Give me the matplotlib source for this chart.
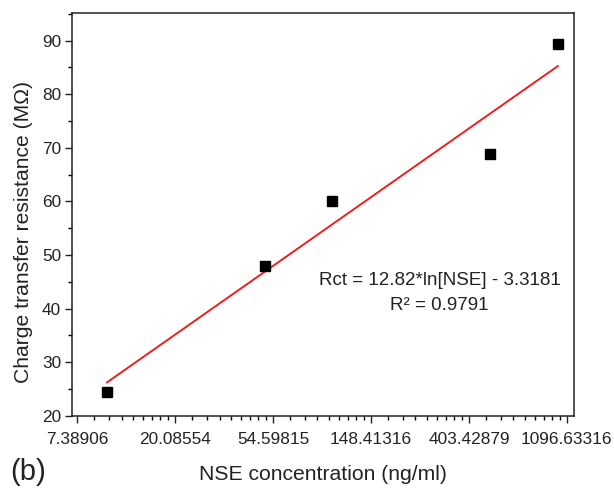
import numpy as np
import matplotlib
matplotlib.use("Agg")
import matplotlib.pyplot as plt
from matplotlib.ticker import FixedLocator, FixedFormatter

# Data
nse_conc = [10, 50, 100, 500, 1000]          # ng/ml
rct = [24.5, 47.9, 60.1, 68.8, 89.3]          # MOhm
fit_slope = 12.82
fit_intercept = -3.3181
r_squared = 0.9791
major_tick_exps = [2, 3, 4, 5, 6, 7]
major_tick_labels = ["7.38906", "20.08554", "54.59815", "148.41316", "403.42879", "1096.63316"]
y_ticks = [20, 30, 40, 50, 60, 70, 80, 90]

plt.rcParams['font.family'] = ['Liberation Sans', 'DejaVu Sans']

fig = plt.figure(figsize=(6.14, 4.91), dpi=100)
ax = fig.add_axes([0.1173, 0.1534, 0.8176, 0.8207])

ax.set_xscale('log', base=np.e)
ax.set_xlim(7, 1180)
ax.set_ylim(20, 95.2)

# fit line
xf = np.exp(np.linspace(np.log(min(nse_conc)), np.log(max(nse_conc)), 50))
ax.plot(xf, fit_slope * np.log(xf) + fit_intercept, color='#e8211e', lw=1.4, zorder=2)

ax.plot(nse_conc, rct, 's', color='black', markersize=7.5, zorder=3)

# ticks
majors = [np.exp(e) for e in major_tick_exps]
ax.xaxis.set_major_locator(FixedLocator(majors))
ax.xaxis.set_major_formatter(FixedFormatter(major_tick_labels))
minors = []
for a, b in zip(majors[:-1], majors[1:]):
    for k in range(1, 9):
        minors.append(a + k * (b - a) / 9)
ax.xaxis.set_minor_locator(FixedLocator(minors))
ax.xaxis.set_minor_formatter(FixedFormatter([]))

ax.set_yticks(y_ticks)
ax.set_yticks([25, 35, 45, 55, 65, 75, 85, 95], minor=True)

ax.tick_params(which='major', direction='out', length=5, width=1, labelsize=12.4, colors='#222222',
               top=False, right=False)
ax.tick_params(axis='x', which='major', pad=7)
ax.tick_params(axis='y', which='major', pad=3)
ax.tick_params(which='minor', direction='out', length=3, width=1, top=False, right=False)
for s in ax.spines.values():
    s.set_linewidth(1.1)
    s.set_color('#222222')

ax.set_xlabel('NSE concentration (ng/ml)', fontsize=15.2, color='#222222')
ax.set_ylabel('Charge transfer resistance (M\u03a9)', fontsize=15.2, color='#222222')
ax.xaxis.set_label_coords(0.5, -0.122)
ax.yaxis.set_label_coords(-0.078, 0.456)

ax.text(np.exp(5.7), 45.3, 'Rct = 12.82*ln[NSE] - 3.3181', ha='center', va='center',
        fontsize=13.5, color='#222222')
ax.text(np.exp(5.7), 40.5, 'R\u00b2 = %.4f' % r_squared, ha='center', va='center',
        fontsize=13.5, color='#222222')

fig.text(0.016, 0.038, '(b)', fontsize=21, color='#222222', ha='left', va='center')

fig.savefig('out.png', dpi=100)
